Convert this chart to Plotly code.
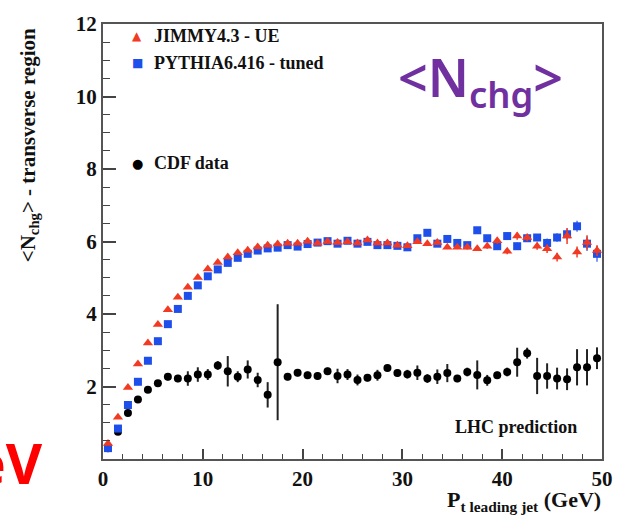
import plotly.graph_objects as go

# ---- data ----
pt = [i + 0.5 for i in range(50)]

jimmy = [0.43, 1.15, 1.97, 2.62, 3.20, 3.71, 4.12, 4.46, 4.74, 5.01,
         5.24, 5.42, 5.57, 5.69, 5.76, 5.85, 5.90, 5.93, 5.95, 5.95,
         6.01, 5.95, 6.00, 5.97, 5.99, 5.96, 6.04, 5.96, 5.96, 5.90,
         5.88, 5.99, 5.94, 5.97, 5.84, 5.84, 5.84, 5.80, 5.87, 6.02,
         5.73, 6.15, 6.11, 5.87, 5.80, 5.57, 6.15, 5.71, 5.97, 5.75]
jimmy_err = [0.02] * 30 + [0.04, 0.04, 0.04, 0.05, 0.05, 0.05, 0.06, 0.06, 0.07, 0.08,
                           0.08, 0.10, 0.10, 0.10, 0.12, 0.12, 0.22, 0.15, 0.20, 0.15]

pythia = [0.30, 0.84, 1.49, 2.13, 2.71, 3.25, 3.72, 4.14, 4.50, 4.79,
          5.04, 5.23, 5.41, 5.55, 5.66, 5.75, 5.81, 5.83, 5.90, 5.86,
          5.93, 5.97, 6.01, 5.94, 6.02, 5.94, 5.99, 5.90, 5.90, 5.88,
          5.84, 6.09, 6.24, 5.94, 6.07, 5.96, 5.90, 6.31, 6.09, 5.87,
          6.15, 5.87, 6.09, 6.11, 5.96, 6.11, 6.20, 6.42, 5.94, 5.66]
pythia_err = [0.02] * 30 + [0.04, 0.04, 0.04, 0.05, 0.05, 0.05, 0.06, 0.06, 0.08, 0.08,
                            0.10, 0.10, 0.10, 0.10, 0.12, 0.12, 0.15, 0.15, 0.20, 0.22]

cdf = [0.30, 0.75, 1.27, 1.64, 1.91, 2.09, 2.27, 2.22, 2.22, 2.33,
       2.33, 2.58, 2.42, 2.27, 2.47, 2.18, 1.77, 2.67, 2.27, 2.38,
       2.31, 2.29, 2.42, 2.29, 2.33, 2.18, 2.24, 2.31, 2.51, 2.37,
       2.34, 2.38, 2.22, 2.27, 2.37, 2.22, 2.40, 2.32, 2.17, 2.31,
       2.40, 2.67, 2.92, 2.29, 2.29, 2.22, 2.20, 2.53, 2.53, 2.78]
cdf_err = [0.04, 0.04, 0.05, 0.05, 0.06, 0.08, 0.10, 0.10, 0.20, 0.20,
           0.15, 0.12, 0.42, 0.15, 0.25, 0.20, 0.35, 1.60, 0.10, 0.10,
           0.10, 0.10, 0.10, 0.20, 0.15, 0.15, 0.10, 0.15, 0.08, 0.10,
           0.12, 0.20, 0.12, 0.20, 0.25, 0.10, 0.12, 0.40, 0.15, 0.10,
           0.12, 0.40, 0.15, 0.50, 0.35, 0.30, 0.30, 0.50, 0.50, 0.30]

y_ticks = [2, 4, 6, 8, 10, 12]
x_ticks = [0, 10, 20, 30, 40, 50]

RED = "#F23A22"
BLUE = "#1F4FEA"
SERIF = "Liberation Serif, Times New Roman, DejaVu Serif, serif"

fig = go.Figure()
fig.add_trace(go.Scatter(
    x=pt, y=cdf, mode="markers",
    marker=dict(symbol="circle", size=8, color="black"),
    error_y=dict(type="data", array=cdf_err, color="#222222", thickness=2, width=0),
    showlegend=False))
fig.add_trace(go.Scatter(
    x=pt, y=pythia, mode="markers",
    marker=dict(symbol="square", size=8, color=BLUE),
    error_y=dict(type="data", array=pythia_err, color="#5577EE", thickness=1.5, width=0),
    showlegend=False))
fig.add_trace(go.Scatter(
    x=pt, y=jimmy, mode="markers",
    marker=dict(symbol="triangle-up", size=9, color=RED),
    error_y=dict(type="data", array=jimmy_err, color=RED, thickness=1.5, width=0),
    showlegend=False))

L, R, T, B = 103, 12, 12, 60
W, H = 625, 519
PW, PH = W - L - R, H - T - B


def px(xp):
    return (xp - L) / PW


def py(yp):
    return (H - B - yp) / PH


ann = []
# legend-like labels
for glyph, col, label, ypix, gsize in [("▲", RED, "JIMMY4.3 - UE", 24, 12),
                                       ("■", BLUE, "PYTHIA6.416 - tuned", 52, 12),
                                       ("●", "black", "CDF data", 155, 13)]:
    ann.append(dict(x=px(138), y=py(ypix), xref="paper", yref="paper", text=glyph,
                    showarrow=False, xanchor="center", yanchor="middle",
                    font=dict(family="DejaVu Sans", size=gsize, color=col)))
    ann.append(dict(x=px(153), y=py(ypix), xref="paper", yref="paper", text=label,
                    showarrow=False, xanchor="left", yanchor="middle",
                    font=dict(family=SERIF, size=18, color="#111111", weight="bold")))

ann.append(dict(x=px(590), y=py(426), xref="paper", yref="paper", text="LHC prediction",
                showarrow=False, xanchor="right", yanchor="middle",
                font=dict(family=SERIF, size=18, color="#111111", weight="bold")))

# axis titles
ann.append(dict(x=px(27), y=py(137), xref="paper", yref="paper",
                text="&lt;N<sub>chg</sub>&gt; - transverse region", textangle=-90,
                showarrow=False, xanchor="center", yanchor="middle",
                font=dict(family=SERIF, size=21, color="#111111", weight="bold")))
ann.append(dict(x=px(614), y=py(502), xref="paper", yref="paper",
                text="P<sub>t leading jet</sub> (GeV)",
                showarrow=False, xanchor="right", yanchor="middle",
                font=dict(family=SERIF, size=22, color="#111111", weight="bold")))

# purple big label
ann.append(dict(x=px(489), y=py(70), xref="paper", yref="paper",
                text="&lt;N<sub>chg</sub>&gt;",
                showarrow=False, xanchor="center", yanchor="middle",
                font=dict(family="Comic Sans MS, Noto Sans", size=52, color="#7030A0", weight=600)))

# red cut-off text at the left
ann.append(dict(x=px(44), y=py(462), xref="paper", yref="paper",
                text="TeV",
                showarrow=False, xanchor="right", yanchor="middle",
                font=dict(family="Comic Sans MS, Noto Sans", size=56, color="#FF0000", weight="bold")))

fig.update_layout(
    width=W, height=H,
    margin=dict(l=L, r=R, t=T, b=B, pad=0),
    paper_bgcolor="white", plot_bgcolor="white",
    annotations=ann,
    showlegend=False,
    xaxis=dict(range=[0, 50], tickvals=x_ticks, ticktext=[str(v) for v in x_ticks],
               ticks="inside", ticklen=10, tickwidth=1.5, tickcolor="#444444",
               minor=dict(dtick=2, ticks="inside", ticklen=5, tickwidth=1, tickcolor="#444444"),
               showline=True, linecolor="#555555", linewidth=2, mirror=True,
               showgrid=False, zeroline=False,
               tickfont=dict(family=SERIF, size=21, color="#111111", weight="bold")),
    yaxis=dict(range=[0, 12], tickvals=y_ticks, ticktext=[str(v) for v in y_ticks],
               ticks="inside", ticklen=13, tickwidth=1.5, tickcolor="#444444",
               minor=dict(dtick=0.5, ticks="inside", ticklen=7, tickwidth=1, tickcolor="#444444"),
               showline=True, linecolor="#555555", linewidth=2, mirror=True,
               showgrid=False, zeroline=False,
               tickfont=dict(family=SERIF, size=21, color="#111111", weight="bold")),
)

fig.write_html("out.html")
